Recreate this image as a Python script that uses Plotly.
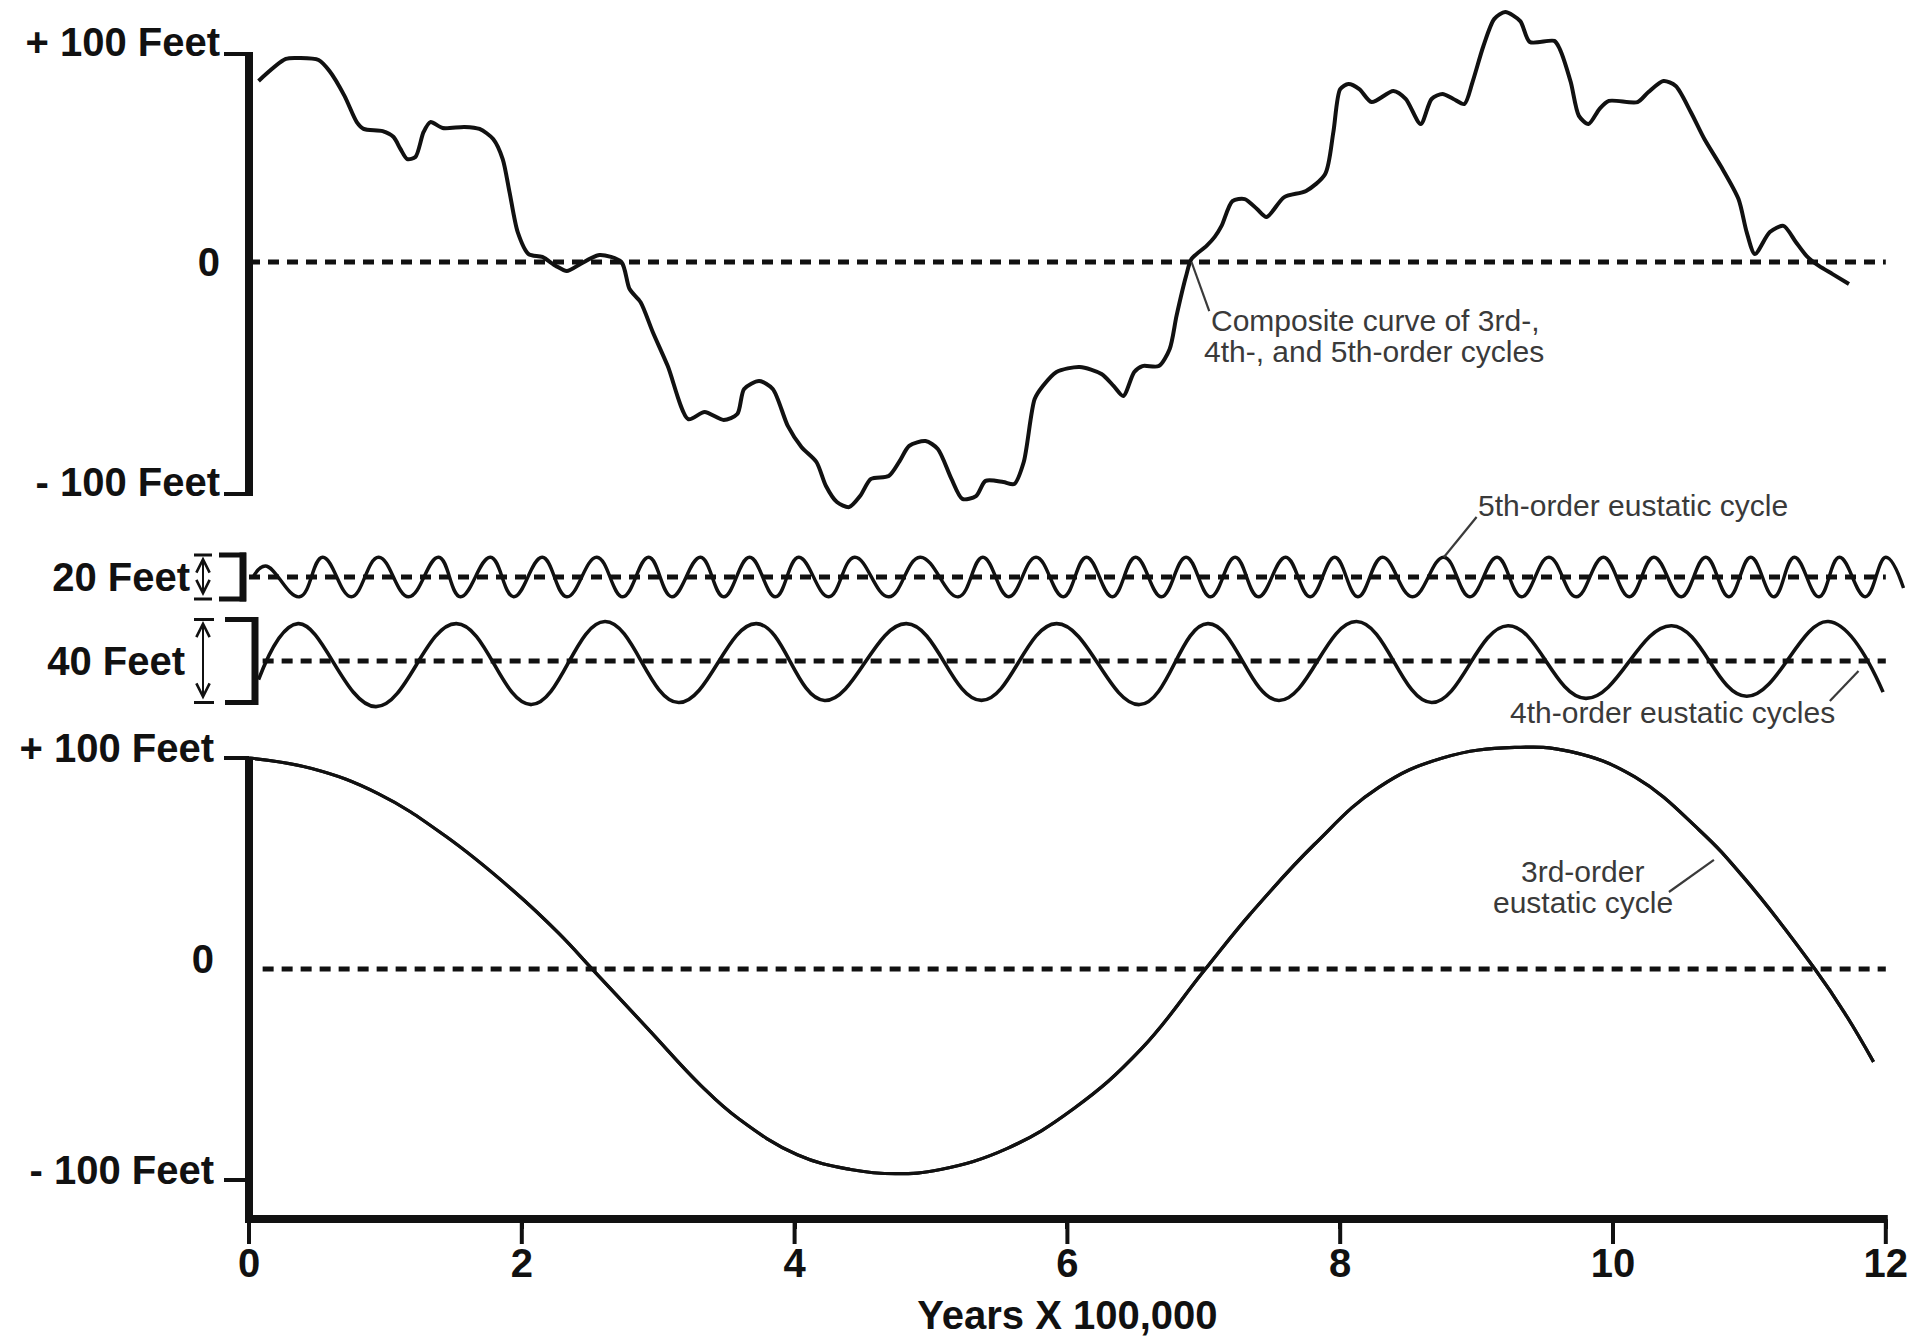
import plotly.graph_objects as go

# ---------------- data: x in units of 100,000 years, y in feet ----------------
composite_x = [0.07, 0.27, 0.37, 0.51, 0.59, 0.70, 0.79, 0.84, 0.98, 1.06,
               1.11, 1.16, 1.22, 1.28, 1.33, 1.42, 1.58, 1.69, 1.79, 1.86,
               1.91, 1.97, 2.05, 2.15, 2.25, 2.33, 2.43, 2.57, 2.73, 2.79,
               2.87, 2.96, 3.07, 3.22, 3.34, 3.48, 3.58, 3.63, 3.74, 3.84,
               3.95, 4.05, 4.16, 4.23, 4.31, 4.40, 4.48, 4.56, 4.69, 4.77,
               4.84, 4.96, 5.05, 5.15, 5.23, 5.33, 5.40, 5.53, 5.61, 5.68,
               5.76, 5.82, 5.92, 6.09, 6.25, 6.34, 6.41, 6.49, 6.55, 6.67,
               6.75, 6.80, 6.87, 6.91, 7.02, 7.08, 7.13, 7.21, 7.30, 7.39,
               7.46, 7.59, 7.75, 7.89, 7.95, 8.00, 8.06, 8.14, 8.23, 8.39,
               8.48, 8.59, 8.67, 8.75, 8.83, 8.91, 8.97, 9.05, 9.13, 9.21,
               9.32, 9.39, 9.57, 9.61, 9.69, 9.75, 9.82, 9.90, 9.97, 10.18,
               10.26, 10.37, 10.46, 10.57, 10.67, 10.79, 10.92, 10.98, 11.04, 11.15,
               11.25, 11.34, 11.42, 11.51, 11.61, 11.73]
composite_ft = [82.3, 92.3, 92.7, 91.8, 86.8, 75.5, 63.6, 60.5, 59.5, 56.8,
                51.4, 46.8, 47.7, 59.1, 63.6, 60.9, 61.4, 60.5, 55.9, 46.8,
                31.8, 13.6, 3.6, 2.3, -1.8, -4.1, -0.9, 3.2, 0.0, -12.3,
                -18.2, -31.8, -47.3, -71.4, -68.2, -71.8, -69.1, -57.7, -54.1, -57.7,
                -74.5, -84.1, -90.9, -101.8, -109.1, -111.4, -106.4, -98.6, -97.3, -90.5,
                -83.6, -81.4, -85.0, -98.6, -107.7, -106.4, -99.5, -100.0, -100.9, -90.9,
                -62.3, -56.4, -50.0, -47.7, -50.9, -56.4, -60.9, -50.0, -47.3, -47.3,
                -39.5, -24.5, -6.4, 1.4, 7.3, 11.4, 16.4, 27.7, 28.6, 24.1,
                20.5, 29.5, 32.3, 40.0, 59.1, 78.6, 80.9, 78.6, 72.7, 77.7,
                74.1, 62.7, 74.1, 76.4, 74.1, 71.8, 81.8, 98.2, 110.5, 113.6,
                109.5, 100.0, 100.5, 96.8, 81.8, 66.4, 62.7, 69.5, 73.2, 72.7,
                77.3, 82.3, 80.0, 68.2, 55.9, 43.6, 28.6, 13.6, 3.6, 13.6,
                16.4, 9.1, 2.7, -1.8, -5.5, -10.0]

fifth_x = [0.03, 0.12, 0.37, 0.54, 0.75, 0.95, 1.17, 1.39, 1.55, 1.77,
           1.94, 2.15, 2.33, 2.55, 2.74, 2.93, 3.10, 3.31, 3.48, 3.67,
           3.86, 4.03, 4.25, 4.44, 4.69, 4.92, 5.20, 5.38, 5.57, 5.77,
           5.97, 6.14, 6.33, 6.50, 6.69, 6.87, 7.05, 7.23, 7.40, 7.60,
           7.78, 7.96, 8.13, 8.31, 8.53, 8.76, 8.95, 9.15, 9.33, 9.53,
           9.73, 9.93, 10.12, 10.30, 10.50, 10.68, 10.85, 11.01, 11.18, 11.33,
           11.51, 11.66, 11.85, 12.00, 12.13]
fifth_ft = [0, 5, -9, 9, -9, 9, -9, 9, -9, 9,
            -9, 9, -9, 9, -9, 9, -9, 9, -9, 9,
            -9, 9, -9, 9, -9, 9, -9, 9, -9, 9,
            -9, 9, -9, 9, -9, 9, -9, 9, -9, 9,
            -9, 9, -9, 9, -9, 9, -9, 9, -9, 9,
            -9, 9, -9, 9, -9, 9, -9, 9, -9, 9,
            -9, 9, -9, 9, -5]

fourth_x = [0.07, 0.36, 0.93, 1.52, 2.07, 2.61, 3.15, 3.72, 4.22, 4.82,
            5.37, 5.92, 6.53, 7.03, 7.55, 8.12, 8.67, 9.23, 9.80, 10.43,
            10.98, 11.58, 11.98]
fourth_ft = [-9, 18, -22, 18, -21, 19, -20, 18, -19, 18,
             -19, 18, -21, 18, -19, 19, -20, 17, -18, 17,
             -17, 19, -15]

third_x = [0.0, 0.46, 0.95, 1.44, 1.94, 2.27, 2.53, 2.92, 3.31, 3.59,
           4.02, 4.41, 4.74, 5.07, 5.56, 6.05, 6.54, 7.00, 7.34, 7.81,
           8.28, 8.75, 9.28, 9.69, 10.16, 10.63, 10.95, 11.48, 11.70, 11.91]
third_ft = [100, 95, 83, 63, 37, 17, -1, -28, -55, -71,
            -88, -95, -97, -95, -85, -66, -38, -1, 26, 59,
            86, 100, 105, 103, 91, 66, 44, 0, -21, -44]

year_ticks = [0, 2, 4, 6, 8, 10, 12]
year_title = "Years X 100,000"
feet_ticks = [100, 0, -100]
feet_labels = ["+ 100 Feet", "0", "- 100 Feet"]
fifth_label = "20 Feet"
fourth_label = "40 Feet"

# ---------------- page geometry ----------------
W, H = 1921, 1343
INK = "#111111"
NOTE = "#3a3a3a"
FONT = "Liberation Sans, Arial, Helvetica, sans-serif"

X0, XS = 249.0, 136.4          # pixel column of year 0, pixels per 100,000 years
X_RANGE = [-0.3, 12.25]
AXIS_ROW = 1219.0              # pixel row of the time axis
TICK_LEN = 25                  # drawn length of the time-axis ticks, px
TITLE_DROP = 69                # extra drop of the time-axis title below the axis, px

# each strip: pixel row of its zero line, pixels per foot, value range
PANELS = {
    "y":  dict(zero=262.0, scale=2.20, lo=-122.0, hi=118.0),
    "y2": dict(zero=577.0, scale=2.20, lo=-14.0, hi=14.0),
    "y3": dict(zero=661.0, scale=2.075, lo=-27.0, hi=27.0),
    "y4": dict(zero=969.0, scale=2.11, lo=-(AXIS_ROW - 969.0) / 2.11, hi=112.0),
}


def xpx(u):
    return X0 + XS * u


def ypx(ax, v):
    p = PANELS[ax]
    return p["zero"] - p["scale"] * v


def fx(px):
    return px / W


def fy(px):
    return 1 - px / H


def domain(ax):
    p = PANELS[ax]
    return [fy(ypx(ax, p["lo"])), fy(ypx(ax, p["hi"]))]


fig = go.Figure()


def curve(x, y, ax, width, smoothing, xa="x"):
    fig.add_trace(go.Scatter(
        x=x, y=y, xaxis=xa, yaxis=ax, mode="lines",
        line=dict(color=INK, width=width, shape="spline", smoothing=smoothing),
        hoverinfo="skip", showlegend=False))


curve(composite_x, composite_ft, "y", 4.0, 0.75)
curve(fifth_x, fifth_ft, "y2", 3.4, 1.2)
curve(fourth_x, fourth_ft, "y3", 3.6, 1.15)
curve(third_x, third_ft, "y4", 3.2, 1.2)
# the 3rd-order cycle is also tied to the title axis so that axis gets drawn
curve(third_x, third_ft, "y4", 3.2, 1.2, xa="x2")

bold = dict(family=FONT, size=40, color=INK, weight="bold")
note_font = dict(family=FONT, size=30, color=NOTE)


def y_axis(ax, vals, text, standoff, shift=0):
    p = PANELS[ax]
    return dict(domain=domain(ax), range=[p["lo"], p["hi"]], anchor="free",
                position=fx(xpx(0)), showgrid=False, zeroline=False,
                showline=False, ticks="", tickvals=vals, ticktext=text,
                tickfont=bold, ticklabelstandoff=standoff,
                ticklabelshift=shift, automargin=False, fixedrange=True)


shapes = []


def seg(x0, y0, x1, y1, width, color=INK):
    shapes.append(dict(type="line", xref="paper", yref="paper",
                       x0=fx(x0), y0=fy(y0), x1=fx(x1), y1=fy(y1),
                       line=dict(color=color, width=width), layer="above"))


# zero (sea-level) reference lines
for ax, start in (("y", 0.0), ("y2", 0.0), ("y3", 0.1), ("y4", 0.1)):
    shapes.append(dict(type="line", xref="x", yref=ax, x0=start, x1=12,
                       y0=0, y1=0,
                       line=dict(color=INK, width=5, dash="11px,8px")))

# composite panel: bracket axis, ticks resting on the label baselines
BASELINE_DROP = 12
top_hi = ypx("y", 100) + BASELINE_DROP
top_lo = ypx("y", -100) + BASELINE_DROP
seg(xpx(0), top_hi - 2, xpx(0), top_lo + 2, 8)
seg(224, top_hi, xpx(0), top_hi, 4)
seg(224, top_lo, xpx(0), top_lo, 4)

# 3rd-order panel: vertical axis joined to the time axis
seg(xpx(0), ypx("y4", 100), xpx(0), AXIS_ROW + 4, 8)
seg(224, ypx("y4", 100), xpx(0), ypx("y4", 100), 4)
seg(224, ypx("y4", -100), xpx(0), ypx("y4", -100), 4)
seg(xpx(0) - 4, AXIS_ROW, xpx(12) + 2, AXIS_ROW, 8)

# long tick marks hanging from the time axis
for t in year_ticks:
    seg(xpx(t), AXIS_ROW, xpx(t), AXIS_ROW + TICK_LEN, 4)

# brackets and double arrows of the two cycle strips
annotations = []
for ax, half, bar_l, bar_r, cap_r in (("y2", 10, 219, 246, 212),
                                      ("y3", 20, 225, 258, 214)):
    top, bot = ypx(ax, half), ypx(ax, -half)
    seg(bar_l, top, bar_r, top, 5)
    seg(bar_l, bot, bar_r, bot, 5)
    seg(bar_r - 3, top - 2.5, bar_r - 3, bot + 2.5, 7)
    seg(194, top, cap_r, top, 3)
    seg(194, bot, cap_r, bot, 3)
    annotations.append(dict(
        xref="paper", yref="paper", x=fx(203), y=fy(top + 1.5), text="",
        showarrow=True, axref="pixel", ayref="pixel", ax=0, ay=bot - top - 3,
        arrowside="end+start", arrowhead=5, startarrowhead=5,
        arrowsize=1.3, startarrowsize=1.3, arrowwidth=2, arrowcolor=INK))

# leader lines from the notes to their curves
for (u0, ax0, v0), (u1, ax1, v1) in (
        ((6.91, "y", 0.0), (7.04, "y", -22.3)),
        ((8.76, "y2", 9.0), (9.0, "y2", 27.3)),
        ((11.59, "y3", -19.3), (11.80, "y3", -4.8)),
        ((10.41, "y4", 36.5), (10.74, "y4", 51.7))):
    seg(xpx(u0), ypx(ax0, v0), xpx(u1), ypx(ax1, v1), 2.2, color=NOTE)

# notes, placed on the page through each strip's scale
notes = [
    ("Composite curve of 3rd-,", 7.045, "y", -26.8, "left"),
    ("4th-, and 5th-order cycles", 6.994, "y", -40.5, "left"),
    ("5th-order eustatic cycle", 9.003, "y2", 32.7, "left"),
    ("4th-order eustatic cycles", 9.238, "y3", -24.6, "left"),
    ("3rd-order", 9.773, "y4", 46.4, "center"),
    ("eustatic cycle", 9.78, "y4", 31.3, "center"),
]
for text, u, ax, v, anchor in notes:
    annotations.append(dict(xref="paper", yref="paper",
                            x=fx(xpx(u)), y=fy(ypx(ax, v)), text=text,
                            showarrow=False, xanchor=anchor, yanchor="middle",
                            font=note_font, borderpad=0))

x_domain = [fx(xpx(X_RANGE[0])), fx(xpx(X_RANGE[1]))]
fig.update_layout(
    width=W, height=H, autosize=False,
    margin=dict(l=0, r=0, t=0, b=0, pad=0, autoexpand=False),
    paper_bgcolor="white", plot_bgcolor="white",
    showlegend=False,
    xaxis=dict(domain=x_domain, range=X_RANGE, anchor="y4",
               showgrid=False, zeroline=False, showline=False,
               ticks="outside", ticklen=9, tickwidth=4, tickcolor=INK,
               tickvals=year_ticks, tickfont=bold,
               automargin=False, fixedrange=True),
    # second time axis carrying only the title, centred under the 0-12 span
    xaxis2=dict(domain=x_domain, range=X_RANGE, anchor="y4", overlaying="x",
                side="bottom", showgrid=False, zeroline=False, showline=False,
                ticks="", tickvals=[(year_ticks[0] + year_ticks[-1]) / 2],
                ticktext=[year_title], tickfont=bold,
                ticklabelstandoff=TITLE_DROP, automargin=False,
                fixedrange=True),
    yaxis=y_axis("y", feet_ticks, feet_labels, 29),
    yaxis2=y_axis("y2", [0], [fifth_label], 59),
    yaxis3=y_axis("y3", [0], [fourth_label], 64),
    yaxis4=y_axis("y4", feet_ticks, feet_labels, 35, shift=-10),
    shapes=shapes,
    annotations=annotations,
)

fig.write_html("out.html")
